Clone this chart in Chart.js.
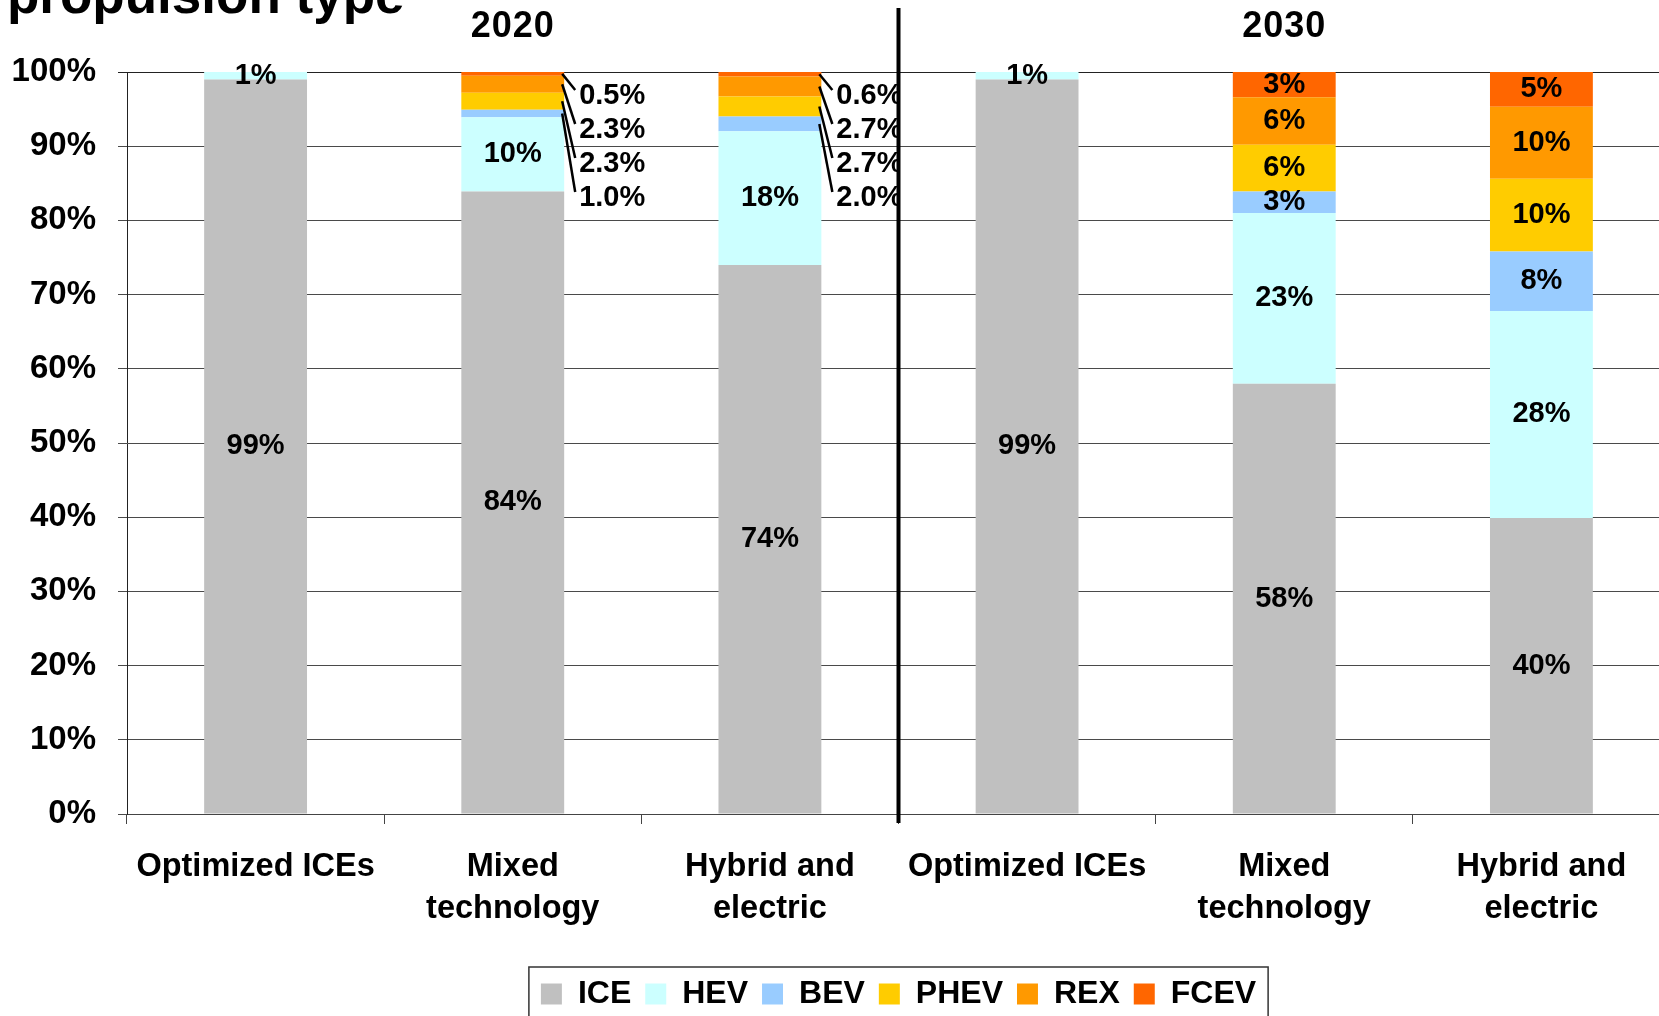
<!DOCTYPE html>
<html lang="en">
<head>
  <meta charset="UTF-8">
  <title>Propulsion type</title>
  <script src="https://cdn.jsdelivr.net/npm/chart.js"></script>
  <style>
    html, body {
      margin: 0;
      padding: 0;
      overflow: hidden;
      background: #fff;
    }
    canvas {
      display: block;
    }
  </style>
</head>
<body>
  <canvas id="chartCanvas" width="1670" height="1020"></canvas>

  <script>
    // categories (two scenario groups of three)
    const categories = [
      ["Optimized ICEs"], ["Mixed", "technology"], ["Hybrid and", "electric"],
      ["Optimized ICEs"], ["Mixed", "technology"], ["Hybrid and", "electric"]
    ];
    const groupLabels = ["2020", "2030"];
    const seriesNames = ["ICE", "HEV", "BEV", "PHEV", "REX", "FCEV"];
    const seriesColors = ["#C0C0C0", "#CCFFFF", "#99CCFF", "#FFCC00", "#FF9900", "#FF6600"];

    // shares in %
    const iceValues  = [99, 83.9, 74,  99, 58,   39.9];
    const hevValues  = [1,  10,   18,  1,  23,   27.9];
    const bevValues  = [0,  1.0,  2.0, 0,  2.9,  8];
    const phevValues = [0,  2.3,  2.7, 0,  6.3,  9.8];
    const rexValues  = [0,  2.3,  2.7, 0,  6.4,  9.7];
    const fcevValues = [0,  0.5,  0.6, 0,  3.4,  4.7];

    const yTickValues = [0, 10, 20, 30, 40, 50, 60, 70, 80, 90, 100];
    // categories whose small segments get labels beside the bar
    const calloutCategories = [1, 2];

    const FONT = "'Liberation Sans', Arial, Helvetica, sans-serif";
    const allSeries = [iceValues, hevValues, bevValues, phevValues, rexValues, fcevValues];

    const annotate = {
      id: "annotate",
      afterDatasetsDraw(chart) {
        const { ctx, scales: { x, y } } = chart;
        ctx.save();
        ctx.fillStyle = "#000";
        ctx.font = `bold 29px ${FONT}`;
        ctx.textAlign = "center";
        ctx.textBaseline = "middle";

        // labels inside the segments
        chart.data.datasets.forEach((ds, di) => {
          chart.getDatasetMeta(di).data.forEach((bar, j) => {
            const v = ds.data[j];
            if (!v) return;
            if (calloutCategories.includes(j) && di >= 2) return;
            ctx.fillText(Math.round(v) + "%", bar.x, (bar.y + bar.base) / 2);
          });
        });

        // small segments: labels to the right with leader lines
        const top = y.getPixelForValue(100);
        const divX = (x.getPixelForValue(2) + x.getPixelForValue(3)) / 2;
        ctx.beginPath();
        ctx.rect(0, 0, divX - 1, chart.height);
        ctx.clip();
        ctx.textAlign = "left";
        ctx.strokeStyle = "#000";
        ctx.lineWidth = 2.5;
        calloutCategories.forEach(j => {
          [5, 4, 3, 2].forEach((di, k) => {
            const bar = chart.getDatasetMeta(di).data[j];
            const v = chart.data.datasets[di].data[j];
            const right = bar.x + bar.width / 2;
            const lx = right + 15;
            const ly = top + 24 + k * 34;
            ctx.beginPath();
            ctx.moveTo(right - 2, (bar.y + bar.base) / 2);
            ctx.lineTo(lx - 4, ly - 6);
            ctx.stroke();
            ctx.fillText(v.toFixed(1) + "%", lx, ly);
          });
        });
        ctx.restore();
      },
      afterDraw(chart) {
        const { ctx, scales: { x, y } } = chart;
        ctx.save();
        ctx.fillStyle = "#000";

        // chart title (cut at the top, as in the source)
        ctx.font = `bold 53px ${FONT}`;
        ctx.textAlign = "left";
        ctx.textBaseline = "alphabetic";
        ctx.fillText("propulsion type", 7, 13);

        // group titles
        ctx.font = `bold 36px ${FONT}`;
        ctx.textAlign = "center";
        ctx.letterSpacing = "1px";
        ctx.fillText(groupLabels[0], x.getPixelForValue(1), 37);
        ctx.fillText(groupLabels[1], x.getPixelForValue(4), 37);
        ctx.letterSpacing = "0px";

        // divider between the two years
        const divX = (x.getPixelForValue(2) + x.getPixelForValue(3)) / 2;
        ctx.strokeStyle = "#000";
        ctx.lineWidth = 4;
        ctx.beginPath();
        ctx.moveTo(divX, 8);
        ctx.lineTo(divX, y.getPixelForValue(0) + 9);
        ctx.stroke();

        // legend frame
        const lg = chart.legend;
        const hb = lg.legendHitBoxes;
        if (hb && hb.length) {
          const last = hb[hb.length - 1];
          const l = hb[0].left - 12;
          const r = last.left + last.width + 12;
          ctx.strokeStyle = "#333";
          ctx.lineWidth = 1.5;
          ctx.strokeRect(l, lg.top + 3, r - l, chart.height);
        }
        ctx.restore();
      }
    };

    const ctx = document.getElementById("chartCanvas").getContext("2d");
    new Chart(ctx, {
      type: "bar",
      data: {
        labels: categories,
        datasets: seriesNames.map((name, i) => ({
          label: name,
          data: allSeries[i],
          backgroundColor: seriesColors[i],
          borderWidth: 0,
          categoryPercentage: 1,
          barPercentage: 0.4
        }))
      },
      options: {
        responsive: false,
        animation: false,
        layout: { padding: { top: 72, left: 0, right: 0, bottom: 0 } },
        plugins: {
          title: { display: false },
          tooltip: { enabled: false },
          legend: {
            position: "bottom",
            fullSize: false,
            labels: {
              color: "#000",
              font: { family: FONT, size: 32, weight: "bold" },
              boxWidth: 21,
              boxHeight: 21,
              padding: 14
            }
          }
        },
        scales: {
          x: {
            stacked: true,
            offset: true,
            grid: {
              offset: true,
              drawOnChartArea: false,
              tickLength: 10,
              color: "#444"
            },
            border: { display: true, color: "#444", width: 1 },
            ticks: {
              color: "#000",
              padding: 22,
              maxRotation: 0,
              autoSkip: false,
              font: { family: FONT, size: 32.5, weight: "bold", lineHeight: 42 / 32.5 }
            },
            afterFit: scale => { scale.height = 150; }
          },
          y: {
            stacked: true,
            min: 0,
            max: 100,
            afterBuildTicks: scale => {
              scale.ticks = yTickValues.map(v => ({ value: v }));
            },
            grid: {
              tickLength: 9,
              color: c => (c.tick && c.tick.value === 100 ? "#222" : "#4a4a4a"),
              lineWidth: 1
            },
            border: { display: true, color: "#222", width: 1 },
            ticks: {
              color: "#000",
              padding: 22,
              font: { family: FONT, size: 33, weight: "bold" },
              callback: v => v + "%"
            },
            afterFit: scale => { scale.width = 127; }
          }
        }
      },
      plugins: [annotate]
    });
  </script>
</body>
</html>
